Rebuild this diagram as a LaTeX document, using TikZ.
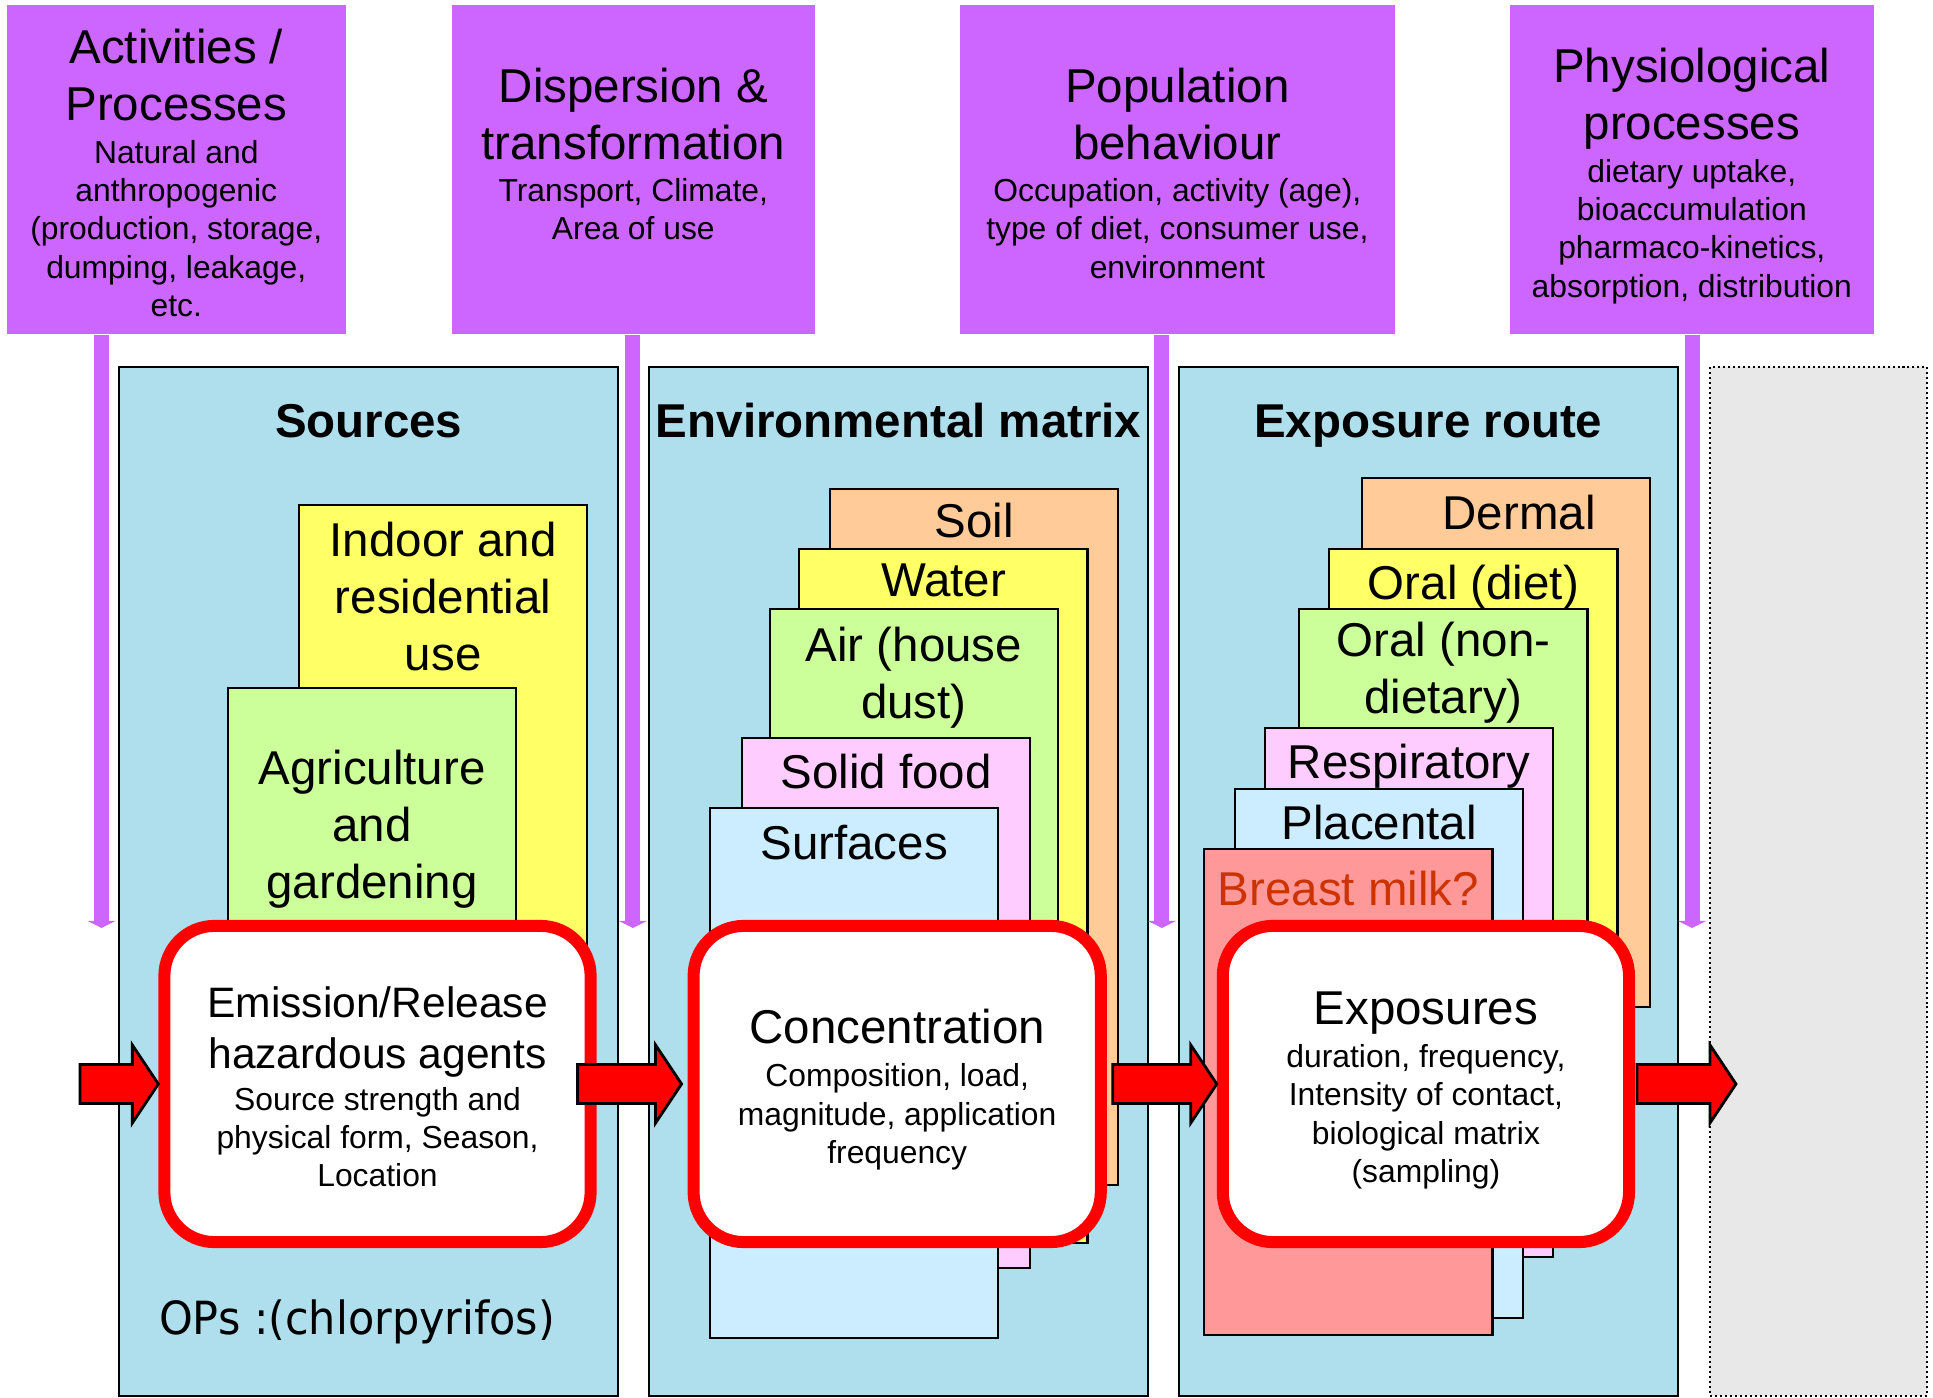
\documentclass[tikz,border=0pt]{standalone}
\usepackage{fontspec}
\setmainfont{Liberation Sans}
\newfontfamily\opsfont[FakeStretch=0.94]{DejaVu Sans}
\usetikzlibrary{arrows.meta,calc}

\definecolor{procpurple}{RGB}{204,102,255}
\definecolor{panelblue}{RGB}{175,223,237}
\definecolor{layerorange}{RGB}{255,204,153}
\definecolor{layeryellow}{RGB}{255,255,102}
\definecolor{layergreen}{RGB}{204,255,153}
\definecolor{layerpink}{RGB}{255,204,255}
\definecolor{layerblue}{RGB}{204,236,255}
\definecolor{layersalmon}{RGB}{255,153,153}
\definecolor{milkred}{RGB}{204,51,0}
\definecolor{restgray}{RGB}{232,232,232}

\newcommand{\ttlfont}{\fontsize{13.5}{0}\selectfont}
\newcommand{\subfont}{\fontsize{9.05}{0}\selectfont}
\newcommand{\emfont}{\fontsize{12.1}{0}\selectfont}
\newcommand{\headfont}{\fontsize{13.5}{0}\selectfont\bfseries}
\newcommand{\flowarrow}[2]{\draw[flow] ($(#1)+(0,-19.5)$) -- ($(#2)+(-26,-19.5)$) -- ($(#2)+(-26,-39)$) -- (#2) -- ($(#2)+(-26,39)$) -- ($(#2)+(-26,19.5)$) -- ($(#1)+(0,19.5)$) -- cycle;}
\lineskiplimit=-\maxdimen

\begin{document}
\begin{tikzpicture}[x=0.01cm, y=-0.01cm,
    procbox/.style={fill=procpurple, anchor=north west, inner sep=0pt, align=center, minimum height=3.29cm, text depth=0pt, font=\subfont},
    panel/.style={draw=black, line width=0.6pt, fill=panelblue, anchor=north west, inner sep=0pt, minimum width=4.99cm, minimum height=10.28cm},
    heading/.style={anchor=base, inner sep=0pt, font=\headfont},
    layer/.style={draw=black, line width=0.6pt, anchor=north west, inner sep=0pt, minimum width=2.88cm},
    layertext/.style={anchor=north, inner sep=0pt, align=center, font=\ttlfont},
    stage/.style={draw=red, line width=0.12cm, fill=white, rounded corners=0.5cm, inner sep=0pt, align=center, minimum height=3.16cm, text depth=0pt, font=\subfont},
    feed/.style={draw=procpurple, line width=0.15cm, -{Triangle[width=0.28cm, length=0.07cm, line width=0pt]}},
    flow/.style={fill=red, draw=black, line width=0.8pt, line join=miter}]
    \useasboundingbox (0,0) rectangle (1933,1398);

    \node[procbox, minimum width=3.39cm, text height=83.8pt] (activ) at (6,4) {\ttlfont Activities /\\[16.2pt]\ttlfont Processes\\[12.1pt]Natural and\\[10.9pt]anthropogenic\\[10.9pt](production, storage,\\[10.9pt]dumping, leakage,\\[10.9pt]etc.};
    \node[procbox, minimum width=3.63cm, text height=40.2pt] (disper) at (451,4) {\ttlfont Dispersion \&\\[16.2pt]\ttlfont transformation\\[12.1pt]Transport, Climate,\\[10.9pt]Area of use};
    \node[procbox, minimum width=4.35cm, text height=62pt] (popul) at (959,4) {\ttlfont Population\\[16.2pt]\ttlfont behaviour\\[12.1pt]Occupation, activity (age),\\[10.9pt]type of diet, consumer use,\\[10.9pt]environment};
    \node[procbox, minimum width=3.64cm, text height=72.8pt] (physio) at (1509,4) {\ttlfont Physiological\\[16.2pt]\ttlfont processes\\[12.1pt]dietary uptake,\\[10.9pt]bioaccumulation\\[10.9pt]pharmaco-kinetics,\\[10.9pt]absorption, distribution};

    \node[panel] (srcpanel) at (118,366) {};
    \node[panel] (envpanel) at (648,366) {};
    \node[panel] (exppanel) at (1177.5,366) {};
    \node[draw=black, line width=0.57pt, dash pattern=on 0.57pt off 0.85pt, fill=restgray, anchor=north west, inner sep=0pt, minimum width=2.17cm, minimum height=10.28cm] (restpanel) at (1709,366) {};

    \node[heading] (srchead) at ($(srcpanel.north)+(0,72)$) {Sources};
    \node[heading] (envhead) at ($(envpanel.north)+(0,72)$) {Environmental matrix};
    \node[heading] (exphead) at ($(exppanel.north)+(0,72)$) {Exposure route};

    \node[layer, fill=layeryellow, minimum height=5.46cm] (indoor) at (298,504) {};
    \node[layertext] (indoortext) at ($(indoor.north)+(0,17)$) {Indoor and\\[16.2pt]residential\\[16.2pt]use};
    \node[layer, fill=layergreen, minimum height=3.63cm] (agri) at (227,687) {};
    \node[layertext] (agritext) at ($(agri.north)+(0,62)$) {Agriculture\\[16.2pt]and\\[16.2pt]gardening};

    \node[layer, fill=layerorange, minimum height=6.96cm] (soil) at (829,487.7) {};
    \node[layertext] (soiltext) at ($(soil.north)+(0,15)$) {Soil};
    \node[layer, fill=layeryellow, minimum height=6.94cm] (water) at (798.3,547.7) {};
    \node[layertext] (watertext) at ($(water.north)+(0,15)$) {Water};
    \node[layer, fill=layergreen, minimum height=6.22cm] (air) at (768.7,608.3) {};
    \node[layertext] (airtext) at ($(air.north)+(0,18)$) {Air (house\\[16.2pt]dust)};
    \node[layer, fill=layerpink, minimum height=5.30cm] (food) at (741,736.7) {};
    \node[layertext] (foodtext) at ($(food.north)+(0,17)$) {Solid food};
    \node[layer, fill=layerblue, minimum height=5.29cm] (surface) at (709,807.3) {};
    \node[layertext] (surfacetext) at ($(surface.north)+(0,17)$) {Surfaces};

    \node[layer, fill=layerorange, minimum height=5.29cm] (dermal) at (1361,476.7) {};
    \node[layertext] (dermaltext) at ($(dermal.north)+(13,18)$) {Dermal};
    \node[layer, fill=layeryellow, minimum height=6.02cm] (oraldiet) at (1328.3,547.7) {};
    \node[layertext] (oraldiettext) at ($(oraldiet.north)+(0,17)$) {Oral (diet)};
    \node[layer, fill=layergreen, minimum height=5.42cm] (oralnon) at (1298.3,608.3) {};
    \node[layertext] (oralnontext) at ($(oralnon.north)+(0,13)$) {Oral (non-\\[16.2pt]dietary)};
    \node[layer, fill=layerpink, minimum height=5.29cm] (resp) at (1264,726.7) {};
    \node[layertext] (resptext) at ($(resp.north)+(0,17)$) {Respiratory};
    \node[layer, fill=layerblue, minimum height=5.29cm] (placenta) at (1234,787.7) {};
    \node[layertext] (placentatext) at ($(placenta.north)+(0,17)$) {Placental};
    \node[layer, fill=layersalmon, minimum height=4.86cm] (milk) at (1203.3,847.7) {};
    \node[layertext, text=milkred] (milktext) at ($(milk.north)+(0,23)$) {Breast milk?};

    \coordinate (feed1) at (101.5,928);
    \coordinate (feed2) at (632.8,928);
    \coordinate (feed3) at (1161.8,928);
    \coordinate (feed4) at (1692,928);
    \draw[feed] (activ.south -| feed1) -- (feed1);
    \draw[feed] (disper.south -| feed2) -- (feed2);
    \draw[feed] (popul.south -| feed3) -- (feed3);
    \draw[feed] (physio.south -| feed4) -- (feed4);

    \node[stage, minimum width=4.26cm, text height=58.4pt] (emission) at (377.5,1084) {\emfont Emission/Release\\[14.5pt]\emfont hazardous agents\\[11.9pt]Source strength and\\[10.9pt]physical form, Season,\\[10.9pt]Location};
    \node[stage, minimum width=4.07cm, text height=45.2pt] (conc) at (897.2,1084) {\ttlfont Concentration\\[12.2pt]Composition, load,\\[10.9pt]magnitude, application\\[10.9pt]frequency};
    \node[stage, minimum width=4.06cm, text height=56.1pt] (expos) at (1425.9,1084) {\ttlfont Exposures\\[12.4pt]duration, frequency,\\[10.9pt]Intensity of contact,\\[10.9pt]biological matrix\\[10.9pt](sampling)};

    \node[anchor=base, inner sep=0pt, font=\opsfont\fontsize{13}{0}\selectfont] (ops) at (357,1334) {OPs :(chlorpyrifos)};

    \coordinate (inflow) at (80,1084);
    \coordinate (emout) at ($(emission.east)+(-19,0)$);
    \coordinate (concin) at ($(conc.west)+(-6,0)$);
    \coordinate (concout) at ($(conc.east)+(6,0)$);
    \coordinate (exposout) at ($(expos.east)+(2,0)$);
    \coordinate (outflow) at (1736,1084);
    \flowarrow{inflow}{emission.west}
    \flowarrow{emout}{concin}
    \flowarrow{concout}{expos.west}
    \flowarrow{exposout}{outflow}
\end{tikzpicture}
\end{document}
